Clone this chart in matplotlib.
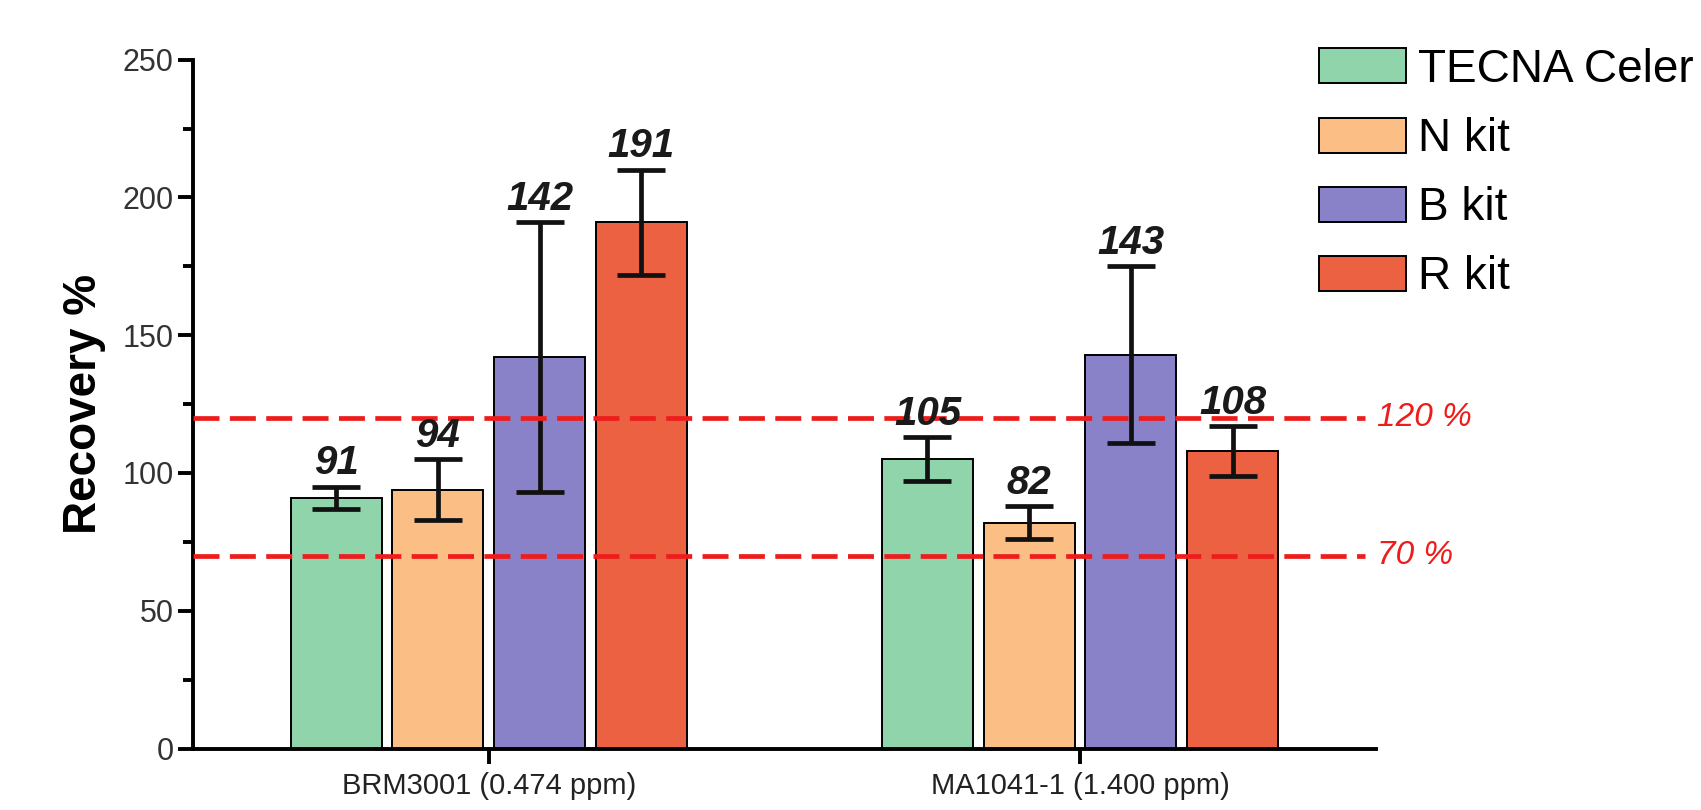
import matplotlib
matplotlib.use("Agg")
import matplotlib.pyplot as plt
import numpy as np
from matplotlib.patches import Patch
from matplotlib.ticker import MultipleLocator

plt.rcParams["font.family"] = ["Liberation Sans", "DejaVu Sans"]

samples = ["BRM3001 (0.474 ppm)", "MA1041-1 (1.400 ppm)"]
kits = ["TECNA Celer", "N kit", "B kit", "R kit"]
recovery = {
    "TECNA Celer": [91, 105],
    "N kit": [94, 82],
    "B kit": [142, 143],
    "R kit": [191, 108],
}
errors = {
    "TECNA Celer": [4, 8],
    "N kit": [11, 6],
    "B kit": [49, 32],
    "R kit": [19, 9],
}
limits = [120, 70]
limit_labels = ["120 %", "70 %"]
colors = ["#90d4ab", "#fbbe84", "#8a82c8", "#ec6141"]

fig = plt.figure(figsize=(17.01, 8.10), dpi=100)
ax = fig.add_axes([0.1135, 0.0759, 0.6952, 0.8504])

xc = np.arange(len(samples))
step, width = 0.172, 0.154
for k, (kit, col) in enumerate(zip(kits, colors)):
    xs = xc + (k - 1.5) * step
    vals = np.array(recovery[kit])
    errs = np.array(errors[kit])
    ax.bar(xs, vals, width, color=col, edgecolor="black", linewidth=1.4,
           zorder=2)
    ax.errorbar(xs, vals, yerr=errs, fmt="none", ecolor="#111111",
                elinewidth=3.4, capsize=17.5, capthick=3.4, zorder=3)
    for x, v, e in zip(xs, vals, errs):
        ax.annotate(f"{v}", (x, v + e), xytext=(0, 9),
                    textcoords="offset points", ha="center", va="baseline",
                    fontsize=29, fontweight="bold", fontstyle="italic",
                    color="#1a1a1a", zorder=5)

# acceptance limits
for y, lab in zip(limits, limit_labels):
    ax.plot([-0.5, 1.482], [y, y], color="#ee1c1c", lw=3.4,
            ls=(0, (5.5, 2.2)), zorder=3.5, clip_on=False)
    ax.text(1.502, y, lab, color="#ee1c1c", fontsize=24,
            fontstyle="italic", va="center", ha="left")

ax.set_xlim(-0.5, 1.5)
ax.set_ylim(0, 250)
ax.set_xticks(xc)
ax.set_xticklabels(samples, fontsize=21, color="#222222")
ax.yaxis.set_major_locator(MultipleLocator(50))
ax.yaxis.set_minor_locator(MultipleLocator(25))
ax.tick_params(axis="y", which="major", length=11, width=2.8,
               labelsize=22, labelcolor="#333333", pad=3)
ax.tick_params(axis="y", which="minor", length=7, width=2.8)
ax.tick_params(axis="x", length=11, width=2.8, pad=6)
for s in ("top", "right"):
    ax.spines[s].set_visible(False)
for s in ("left", "bottom"):
    ax.spines[s].set_linewidth(2.8)
ax.set_ylabel("Recovery %", fontsize=33, fontweight="bold", labelpad=12)

handles = [Patch(facecolor=c, edgecolor="black", linewidth=1.4)
           for c in colors]
ax.legend(handles, kits, loc="upper left", bbox_to_anchor=(0.7754, 0.941),
          bbox_transform=fig.transFigure, frameon=False, fontsize=33,
          handlelength=1.9, handleheight=0.8, handletextpad=0.27,
          labelspacing=0.55, borderpad=0, borderaxespad=0)

fig.savefig("out.png", dpi=100)
